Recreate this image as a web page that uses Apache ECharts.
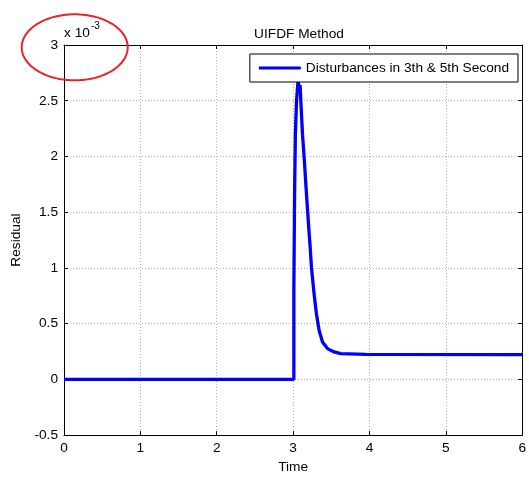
<!DOCTYPE html>
<html>
<head>
<meta charset="utf-8">
<script src="https://cdn.jsdelivr.net/npm/echarts@6/dist/echarts.min.js"></script>
<style>
html,body{margin:0;padding:0;background:#fff;}
#chart{width:529px;height:479px;}
</style>
</head>
<body>
<div id="chart"></div>
<script>
// Data (residual in units of 1e-3)
const timeValues = [0, 3.01, 3.01, 3.02, 3.03, 3.045, 3.065, 3.075, 3.083, 3.092, 3.101, 3.123, 3.144, 3.166, 3.189, 3.205, 3.222, 3.241, 3.275, 3.306, 3.340, 3.385, 3.450, 3.537, 3.624, 3.951, 6];
const residualValues = [0, 0, 0.81, 1.70, 2.20, 2.50, 2.68, 2.64, 2.58, 2.64, 2.50, 2.20, 2.00, 1.76, 1.52, 1.36, 1.20, 1.00, 0.765, 0.587, 0.44, 0.335, 0.276, 0.246, 0.231, 0.224, 0.222];
const xTicks = [0, 1, 2, 3, 4, 5, 6];
const yTicks = [-0.5, 0, 0.5, 1, 1.5, 2, 2.5, 3];
const seriesName = 'Disturbances in 3th & 5th Second';
const titleText = 'UIFDF Method';

const FONT = '"Liberation Sans", Arial, Helvetica, sans-serif';
const FS = 13.7;

const chart = echarts.init(document.getElementById('chart'), null, {renderer: 'canvas'});

// ellipse annotation outline (visual mark, not data)
const ellipsePts = [];
for (let i = 0; i < 120; i++) {
  const a = i / 120 * Math.PI * 2;
  ellipsePts.push([74.7 + 53 * Math.cos(a), 47.3 + 33 * Math.sin(a)]);
}

const seriesData = timeValues.map((t, i) => [t, residualValues[i]]);

const commonX = {
  type: 'value', min: xTicks[0], max: xTicks[xTicks.length - 1], interval: 1
};
const commonY = {
  type: 'value', min: yTicks[0], max: yTicks[yTicks.length - 1], interval: 0.5
};

chart.setOption({
  animation: false,
  backgroundColor: '#fff',
  title: {
    text: titleText,
    left: 294, top: 22, textAlign: 'center',
    textStyle: {fontFamily: FONT, fontSize: FS, fontWeight: 'normal', color: '#000'}
  },
  legend: {
    data: [seriesName],
    right: 11, top: 54,
    orient: 'horizontal',
    backgroundColor: '#fff',
    borderColor: '#000', borderWidth: 1, borderRadius: 0,
    padding: [6, 9, 6, 9],
    icon: 'rect',
    itemWidth: 42, itemHeight: 3,
    textStyle: {fontFamily: FONT, fontSize: FS, color: '#000', lineHeight: 16},
    z: 10
  },
  grid: {left: 64, right: 6, top: 45, bottom: 40, containLabel: false},
  xAxis: [
    Object.assign({}, commonX, {
      position: 'bottom',
      name: 'Time', nameLocation: 'middle', nameGap: 18,
      nameTextStyle: {fontFamily: FONT, fontSize: FS, color: '#000'},
      axisLine: {show: true, onZero: false, lineStyle: {color: '#000', width: 1}},
      axisTick: {show: true, inside: true, length: 4, lineStyle: {color: '#000'}},
      axisLabel: {fontFamily: FONT, fontSize: FS, color: '#000', margin: 6, showMaxLabel: true, showMinLabel: true},
      splitLine: {show: true, lineStyle: {color: '#b0b0b0', type: [1, 2], width: 1}}
    }),
    Object.assign({}, commonX, {
      position: 'top',
      axisLine: {show: true, onZero: false, lineStyle: {color: '#000', width: 1}},
      axisTick: {show: true, inside: true, length: 4, lineStyle: {color: '#000'}},
      axisLabel: {show: false},
      splitLine: {show: false}
    })
  ],
  yAxis: [
    Object.assign({}, commonY, {
      position: 'left',
      name: 'Residual', nameLocation: 'middle', nameGap: 37, nameRotate: 90,
      nameTextStyle: {fontFamily: FONT, fontSize: FS, color: '#000'},
      axisLine: {show: true, onZero: false, lineStyle: {color: '#000', width: 1}},
      axisTick: {show: true, inside: true, length: 4, lineStyle: {color: '#000'}},
      axisLabel: {fontFamily: FONT, fontSize: FS, color: '#000', margin: 6, showMaxLabel: true, showMinLabel: true,
        formatter: v => String(Math.round(v * 10) / 10)},
      splitLine: {show: true, lineStyle: {color: '#b0b0b0', type: [1, 2], width: 1}}
    }),
    Object.assign({}, commonY, {
      position: 'right',
      axisLine: {show: true, onZero: false, lineStyle: {color: '#000', width: 1}},
      axisTick: {show: true, inside: true, length: 4, lineStyle: {color: '#000'}},
      axisLabel: {show: false},
      splitLine: {show: false}
    })
  ],
  series: [{
    name: seriesName,
    type: 'line',
    xAxisIndex: 0, yAxisIndex: 0,
    data: seriesData,
    showSymbol: false,
    symbol: 'none',
    lineStyle: {color: '#0000ff', width: 3.3},
    itemStyle: {color: '#0000ff'},
    clip: true,
    z: 3
  }],
  graphic: [
    {type: 'text', left: 64, top: 26,
     style: {text: 'x 10', font: FS + 'px ' + FONT, fill: '#000'}, z: 20},
    {type: 'text', left: 91, top: 21,
     style: {text: '-3', font: '10px ' + FONT, fill: '#000'}, z: 20},
    {type: 'polygon', shape: {points: ellipsePts},
     style: {fill: 'none', stroke: '#e5252a', lineWidth: 2}, z: 30}
  ]
});
</script>
</body>
</html>
